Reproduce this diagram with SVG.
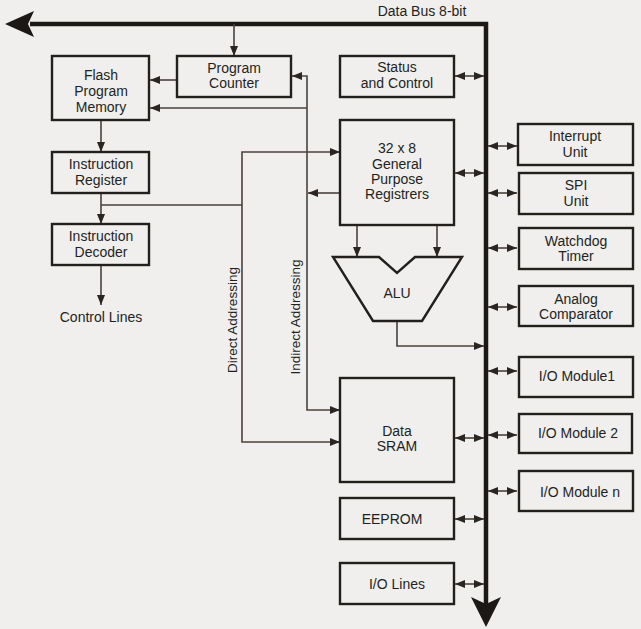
<svg xmlns="http://www.w3.org/2000/svg" width="641" height="629" viewBox="0 0 641 629">
  <style>
    .box { fill: none; stroke: #231f1d; stroke-width: 2.4; }
    .wire { fill: none; stroke: #4a423e; stroke-width: 1.6; }
    .bus { fill: none; stroke: #1c1816; stroke-width: 4.5; }
    .lbl { font-family: "Liberation Sans", Arial, sans-serif; font-size: 14px; fill: #231f1d; text-anchor: middle; }
  </style>
  <defs>
    <marker id="arr" viewBox="0 0 10 8" refX="10" refY="4" markerWidth="10" markerHeight="8" markerUnits="userSpaceOnUse" orient="auto-start-reverse">
      <path d="M0,0 L10,4 L0,8 Z" fill="#2a2522"/>
    </marker>
  </defs>

  <rect width="641" height="629" fill="#f0efed"/>

  <!-- 8-bit data bus -->
  <g id="data-bus">
    <path class="bus" d="M30,24 H486 V605"/>
    <polygon points="5,24 34,11 28,24 34,37" fill="#1c1816"/>
    <polygon points="486,627 471,597 486,604 501,597" fill="#1c1816"/>
    <text class="lbl" x="422" y="16">Data Bus 8-bit</text>
  </g>

  <!-- connectors -->
  <g id="connectors">
    <line class="wire" x1="234" y1="24" x2="234" y2="56" marker-end="url(#arr)"/>
    <line class="wire" x1="177" y1="80" x2="150" y2="80" marker-end="url(#arr)"/>
    <!-- indirect addressing -->
    <path class="wire" d="M307,108 V76 H292" marker-end="url(#arr)"/>
    <line class="wire" x1="307" y1="108" x2="150" y2="108" marker-end="url(#arr)"/>
    <path class="wire" d="M307,108 V410 H340" marker-end="url(#arr)"/>
    <line class="wire" x1="340" y1="193" x2="308" y2="193" marker-end="url(#arr)"/>
    <!-- instruction path -->
    <line class="wire" x1="101" y1="120" x2="101" y2="152" marker-end="url(#arr)"/>
    <line class="wire" x1="101" y1="193" x2="101" y2="224" marker-end="url(#arr)"/>
    <line class="wire" x1="101" y1="265" x2="101" y2="305" marker-end="url(#arr)"/>
    <!-- direct addressing -->
    <line class="wire" x1="101" y1="205" x2="242" y2="205"/>
    <path class="wire" d="M242,205 V152 H340" marker-end="url(#arr)"/>
    <path class="wire" d="M242,205 V442 H340" marker-end="url(#arr)"/>
    <!-- registers to ALU -->
    <line class="wire" x1="357" y1="225" x2="357" y2="257" marker-end="url(#arr)"/>
    <line class="wire" x1="437" y1="225" x2="437" y2="257" marker-end="url(#arr)"/>
    <path class="wire" d="M397,321 V346 H484" marker-end="url(#arr)"/>
    <!-- bus links, left side -->
    <line class="wire" x1="455" y1="76" x2="484" y2="76" marker-start="url(#arr)" marker-end="url(#arr)"/>
    <line class="wire" x1="455" y1="173" x2="484" y2="173" marker-start="url(#arr)" marker-end="url(#arr)"/>
    <line class="wire" x1="455" y1="438" x2="484" y2="438" marker-start="url(#arr)" marker-end="url(#arr)"/>
    <line class="wire" x1="455" y1="519" x2="484" y2="519" marker-start="url(#arr)" marker-end="url(#arr)"/>
    <line class="wire" x1="455" y1="584" x2="484" y2="584" marker-start="url(#arr)" marker-end="url(#arr)"/>
    <!-- bus links, right side -->
    <line class="wire" x1="488" y1="146" x2="517" y2="146" marker-start="url(#arr)" marker-end="url(#arr)"/>
    <line class="wire" x1="488" y1="193" x2="517" y2="193" marker-start="url(#arr)" marker-end="url(#arr)"/>
    <line class="wire" x1="488" y1="248" x2="517" y2="248" marker-start="url(#arr)" marker-end="url(#arr)"/>
    <line class="wire" x1="488" y1="307" x2="517" y2="307" marker-start="url(#arr)" marker-end="url(#arr)"/>
    <line class="wire" x1="488" y1="371" x2="517" y2="371" marker-start="url(#arr)" marker-end="url(#arr)"/>
    <line class="wire" x1="488" y1="435" x2="517" y2="435" marker-start="url(#arr)" marker-end="url(#arr)"/>
    <line class="wire" x1="488" y1="491" x2="517" y2="491" marker-start="url(#arr)" marker-end="url(#arr)"/>
  </g>

  <g id="flash-memory">
    <rect class="box" x="52" y="56" width="97" height="64"/>
    <text class="lbl" x="101" y="80">Flash</text>
    <text class="lbl" x="101" y="96">Program</text>
    <text class="lbl" x="101" y="112">Memory</text>
  </g>
  <g id="program-counter">
    <rect class="box" x="177" y="56" width="114" height="41"/>
    <text class="lbl" x="234" y="73">Program</text>
    <text class="lbl" x="234" y="88">Counter</text>
  </g>
  <g id="instruction-register">
    <rect class="box" x="52" y="152" width="97" height="41"/>
    <text class="lbl" x="101" y="169">Instruction</text>
    <text class="lbl" x="101" y="185">Register</text>
  </g>
  <g id="instruction-decoder">
    <rect class="box" x="52" y="224" width="97" height="41"/>
    <text class="lbl" x="101" y="241">Instruction</text>
    <text class="lbl" x="101" y="257">Decoder</text>
  </g>
  <g id="control-lines">
    <text class="lbl" x="101" y="322">Control Lines</text>
  </g>
  <g id="direct-addressing">
    <text class="lbl" transform="translate(232,320) rotate(-90)" x="0" y="5" style="font-size:13.5px">Direct Addressing</text>
  </g>
  <g id="indirect-addressing">
    <text class="lbl" transform="translate(295,317) rotate(-90)" x="0" y="5" style="font-size:13.5px">Indirect Addressing</text>
  </g>
  <g id="status-control">
    <rect class="box" x="340" y="56" width="114" height="41"/>
    <text class="lbl" x="397" y="72">Status</text>
    <text class="lbl" x="397" y="88">and Control</text>
  </g>
  <g id="registers">
    <rect class="box" x="340" y="120" width="114" height="105"/>
    <text class="lbl" x="397" y="153">32 x 8</text>
    <text class="lbl" x="397" y="169">General</text>
    <text class="lbl" x="397" y="184">Purpose</text>
    <text class="lbl" x="397" y="199">Registrers</text>
  </g>
  <g id="alu">
    <path class="box" d="M333,257 H379 L397,273 L415,257 H462 L422,321 H373 Z"/>
    <text class="lbl" x="397" y="298">ALU</text>
  </g>
  <g id="data-sram">
    <rect class="box" x="340" y="378" width="114" height="104"/>
    <text class="lbl" x="397" y="436">Data</text>
    <text class="lbl" x="397" y="451">SRAM</text>
  </g>
  <g id="eeprom">
    <rect class="box" x="340" y="498" width="114" height="41"/>
    <text class="lbl" x="392" y="524">EEPROM</text>
  </g>
  <g id="io-lines">
    <rect class="box" x="340" y="563" width="114" height="41"/>
    <text class="lbl" x="397" y="589">I/O Lines</text>
  </g>
  <g id="interrupt-unit">
    <rect class="box" x="518" y="124" width="115" height="41"/>
    <text class="lbl" x="575" y="141">Interrupt</text>
    <text class="lbl" x="575" y="157">Unit</text>
  </g>
  <g id="spi-unit">
    <rect class="box" x="519" y="173" width="114" height="41"/>
    <text class="lbl" x="576" y="190">SPI</text>
    <text class="lbl" x="576" y="206">Unit</text>
  </g>
  <g id="watchdog-timer">
    <rect class="box" x="519" y="228" width="114" height="41"/>
    <text class="lbl" x="576" y="246">Watchdog</text>
    <text class="lbl" x="576" y="261">Timer</text>
  </g>
  <g id="analog-comparator">
    <rect class="box" x="519" y="286" width="114" height="40"/>
    <text class="lbl" x="576" y="304">Analog</text>
    <text class="lbl" x="576" y="319">Comparator</text>
  </g>
  <g id="io-module-1">
    <rect class="box" x="519" y="357" width="114" height="40"/>
    <text class="lbl" x="577" y="381">I/O Module1</text>
  </g>
  <g id="io-module-2">
    <rect class="box" x="519" y="414" width="113" height="39"/>
    <text class="lbl" x="578" y="438">I/O Module 2</text>
  </g>
  <g id="io-module-n">
    <rect class="box" x="519" y="471" width="114" height="40"/>
    <text class="lbl" x="580" y="497">I/O Module n</text>
  </g>
</svg>
